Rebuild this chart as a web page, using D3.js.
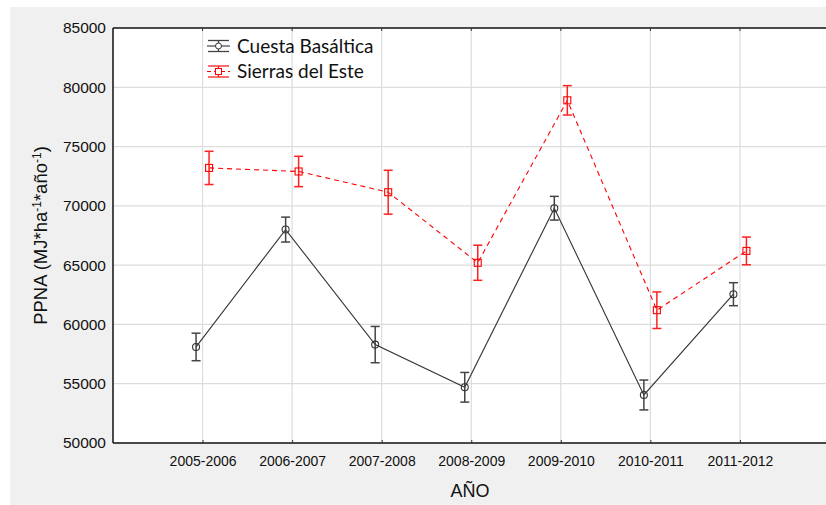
<!DOCTYPE html>
<html>
<head>
<meta charset="utf-8">
<script src="https://cdn.jsdelivr.net/npm/d3@7"></script>
<style>
  body { margin: 0; background: #fff; }
  svg text { font-family: "Liberation Sans", Arial, sans-serif; }
</style>
</head>
<body>
<svg width="826" height="505"></svg>
<script>
// data
var years = ["2005-2006", "2006-2007", "2007-2008", "2008-2009", "2009-2010", "2010-2011", "2011-2012"];
var cuestaMean = [58100, 68000, 58300, 54700, 69800, 54050, 62550];
var cuestaErr  = [1160, 1050, 1530, 1250, 1000, 1260, 970];
var sierrasMean = [73200, 72900, 71150, 65200, 78900, 61200, 66200];
var sierrasErr  = [1400, 1280, 1850, 1480, 1240, 1540, 1170];
var yTicks = [50000, 55000, 60000, 65000, 70000, 75000, 80000, 85000];

var series = [
  { name: "Cuesta Basáltica", mean: cuestaMean, err: cuestaErr, color: "#333", barColor: "#444", dash: null, marker: "circle", dx: -6.5 },
  { name: "Sierras del Este", mean: sierrasMean, err: sierrasErr, color: "#ff0000", barColor: "#ff2020", dash: "5,4", marker: "square", dx: 6.5 }
];

var svg = d3.select("svg");
var pLeft = 113, pTop = 28, pBottom = 443, pRight = 829.5;

// gray panel
svg.append("rect").attr("x", 10).attr("y", 7).attr("width", 826).attr("height", 505)
  .attr("fill", "#f0f0f0");
svg.append("rect").attr("x", pLeft).attr("y", pTop).attr("width", 826 - pLeft).attr("height", pBottom - pTop)
  .attr("fill", "#fff");

var x = d3.scalePoint().domain(years).range([pLeft, pRight]).padding(1);
var y = d3.scaleLinear().domain([50000, 85000]).range([pBottom, pTop]);

// grid
svg.append("g").selectAll("line").data(yTicks.slice(1, -1)).enter().append("line")
  .attr("x1", pLeft).attr("x2", 826)
  .attr("y1", function(d) { return y(d); }).attr("y2", function(d) { return y(d); })
  .attr("stroke", "#dcdcdc").attr("stroke-width", 1.2);
svg.append("g").selectAll("line").data(years).enter().append("line")
  .attr("x1", function(d) { return x(d); }).attr("x2", function(d) { return x(d); })
  .attr("y1", pTop).attr("y2", pBottom)
  .attr("stroke", "#dcdcdc").attr("stroke-width", 1.2);

// frame lines
svg.append("line").attr("x1", pLeft).attr("x2", 826).attr("y1", pTop).attr("y2", pTop)
  .attr("stroke", "#111").attr("stroke-width", 1.5);
svg.append("line").attr("x1", pLeft).attr("x2", pLeft).attr("y1", pTop).attr("y2", pBottom)
  .attr("stroke", "#111").attr("stroke-width", 1.5);

// x axis, ticks inside
var xAxis = svg.append("g").attr("transform", "translate(0," + pBottom + ")")
  .call(d3.axisBottom(x).tickSizeInner(-3).tickSizeOuter(0).tickPadding(8));
xAxis.select(".domain").attr("d", "M" + pLeft + ",0H826").attr("stroke", "#111").attr("stroke-width", 1.5);
xAxis.selectAll(".tick text").attr("font-size", "14px").attr("fill", "#111").attr("dy", "1.05em");
xAxis.selectAll(".tick line").attr("stroke", "#333");

// top ticks
svg.append("g").selectAll("line").data(years).enter().append("line")
  .attr("x1", function(d) { return x(d); }).attr("x2", function(d) { return x(d); })
  .attr("y1", pTop).attr("y2", pTop + 3).attr("stroke", "#333");

// y axis labels
var yAxis = svg.append("g").attr("transform", "translate(" + pLeft + ",0)")
  .call(d3.axisLeft(y).tickValues(yTicks).tickFormat(d3.format("d")).tickSize(0).tickPadding(7));
yAxis.select(".domain").remove();
yAxis.selectAll(".tick text").attr("font-size", "15.5px").attr("fill", "#111");

// series
series.forEach(function(s) {
  var pts = years.map(function(yr, i) {
    return { x: x(yr) + s.dx, m: s.mean[i], e: s.err[i] };
  });
  var g = svg.append("g");
  g.append("path").datum(pts)
    .attr("d", d3.line().x(function(d) { return d.x; }).y(function(d) { return y(d.m); }))
    .attr("fill", "none").attr("stroke", s.color).attr("stroke-width", 1.1)
    .attr("stroke-dasharray", s.dash);
  var eb = g.selectAll(".eb").data(pts).enter().append("g").attr("stroke", s.barColor).attr("stroke-width", 1.5);
  eb.append("line").attr("x1", function(d) { return d.x; }).attr("x2", function(d) { return d.x; })
    .attr("y1", function(d) { return y(d.m + d.e); }).attr("y2", function(d) { return y(d.m - d.e); });
  eb.append("line").attr("x1", function(d) { return d.x - 4.5; }).attr("x2", function(d) { return d.x + 4.5; })
    .attr("y1", function(d) { return y(d.m + d.e); }).attr("y2", function(d) { return y(d.m + d.e); });
  eb.append("line").attr("x1", function(d) { return d.x - 4.5; }).attr("x2", function(d) { return d.x + 4.5; })
    .attr("y1", function(d) { return y(d.m - d.e); }).attr("y2", function(d) { return y(d.m - d.e); });
  if (s.marker == "circle") {
    g.selectAll("circle").data(pts).enter().append("circle")
      .attr("cx", function(d) { return d.x; }).attr("cy", function(d) { return y(d.m); })
      .attr("r", 3.5).attr("fill", "none").attr("stroke", s.color).attr("stroke-width", 1.1);
  } else {
    g.selectAll("rect.mk").data(pts).enter().append("rect")
      .attr("x", function(d) { return d.x - 3.5; }).attr("y", function(d) { return y(d.m) - 3.5; })
      .attr("width", 7).attr("height", 7).attr("fill", "none").attr("stroke", s.color).attr("stroke-width", 1.1);
  }
});

// legend
var leg = svg.append("g");
series.forEach(function(s, i) {
  var cy = 46 + i * 25.5, x0 = 207, x1 = 230, cx = (x0 + x1) / 2;
  var lg = leg.append("g");
  lg.append("line").attr("x1", x0).attr("x2", x1).attr("y1", cy).attr("y2", cy)
    .attr("stroke", s.color).attr("stroke-width", 1.1).attr("stroke-dasharray", s.dash ? "4,3" : null);
  [cy - 5.5, cy + 5.5].forEach(function(yy) {
    lg.append("line").attr("x1", x0 + 1).attr("x2", x1 - 1).attr("y1", yy).attr("y2", yy)
      .attr("stroke", s.barColor).attr("stroke-width", 1.3);
  });
  lg.append("line").attr("x1", cx).attr("x2", cx).attr("y1", cy - 5.5).attr("y2", cy + 5.5)
    .attr("stroke", s.barColor).attr("stroke-width", 1.3);
  if (s.marker == "circle") {
    lg.append("circle").attr("cx", cx).attr("cy", cy).attr("r", 3).attr("fill", "#fff").attr("stroke", s.color);
  } else {
    lg.append("rect").attr("x", cx - 3).attr("y", cy - 3).attr("width", 6).attr("height", 6)
      .attr("fill", "#fff").attr("stroke", s.color);
  }
  lg.append("text").attr("x", 237).attr("y", cy).attr("dy", "0.36em")
    .style("font-family", "Lato, 'Open Sans', sans-serif").attr("font-size", "19px").attr("fill", "#111")
    .text(s.name);
});

// axis titles
svg.append("text").attr("x", 470).attr("y", 497).attr("text-anchor", "middle")
  .attr("font-size", "18px").attr("fill", "#111").text("AÑO");

var yt = svg.append("text").attr("transform", "translate(47," + ((pTop + pBottom) / 2) + ") rotate(-90)")
  .attr("text-anchor", "middle").attr("font-size", "18.5px").attr("fill", "#111");
yt.append("tspan").text("PPNA (MJ*ha");
yt.append("tspan").attr("font-size", "12px").attr("dy", "-0.5em").text("-1");
yt.append("tspan").attr("dy", "0.33em").text("*año");
yt.append("tspan").attr("font-size", "12px").attr("dy", "-0.5em").text("-1");
yt.append("tspan").attr("dy", "0.33em").text(")");
</script>
</body>
</html>
